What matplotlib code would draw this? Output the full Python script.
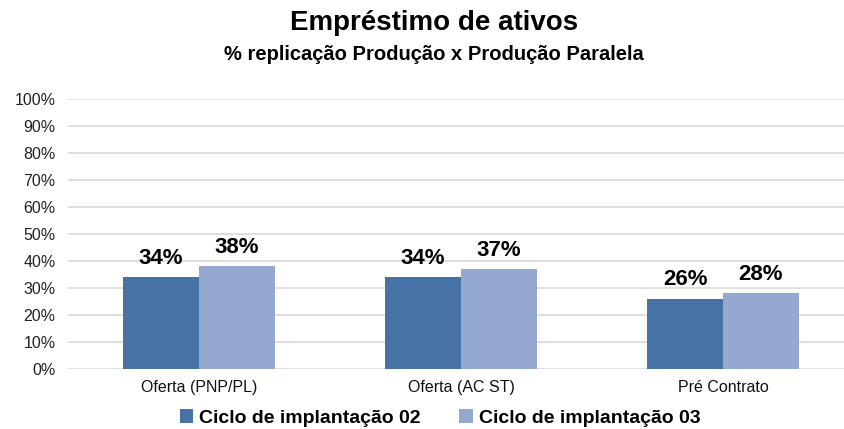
import matplotlib
matplotlib.use("Agg")
import matplotlib.pyplot as plt
import numpy as np

categories = ["Oferta (PNP/PL)", "Oferta (AC ST)", "Pré Contrato"]
series_names = ["Ciclo de implantação 02", "Ciclo de implantação 03"]
ciclo02 = [34, 34, 26]
ciclo03 = [38, 37, 28]
yticks = list(range(0, 101, 10))

plt.rcParams['font.family'] = ['Liberation Sans', 'DejaVu Sans']

fig = plt.figure(figsize=(8.44, 4.29), dpi=100)
W, H = 844, 429
left, right = 68, 854
top, bottom = 99, 369
ax = fig.add_axes([left / W, 1 - bottom / H, (right - left) / W, (bottom - top) / H])

x = np.arange(len(categories))
bw = 0.29
c1, c2 = "#4672A6", "#95A9D0"
b1 = ax.bar(x - bw / 2, ciclo02, bw, color=c1, label=series_names[0], zorder=3)
b2 = ax.bar(x + bw / 2, ciclo03, bw, color=c2, label=series_names[1], zorder=3)
for bars, vals in ((b1, ciclo02), (b2, ciclo03)):
    for r, v in zip(bars, vals):
        ax.annotate(f"{v}%", (r.get_x() + r.get_width() / 2, v), xytext=(0, 6),
                    textcoords="offset points", ha="center", va="bottom",
                    fontsize=16, fontweight="bold", color="black")

ax.set_xlim(-0.5, 2.5)
ax.set_ylim(0, 100)
ax.set_yticks(yticks)
ax.set_yticklabels([f"{t}%" for t in yticks], fontsize=11.5, color="#222222")
ax.set_xticks(x)
ax.set_xticklabels(categories, fontsize=11.5, color="#111111")
ax.tick_params(axis="y", length=0, pad=9)
ax.tick_params(axis="x", length=0, pad=8)
ax.grid(axis="y", color="#D9D9D9", linewidth=1.2, zorder=0)
for s in ax.spines.values():
    s.set_visible(False)

fig.text(434 / W, 1 - 23 / H, "Empréstimo de ativos", ha="center", va="center",
         fontsize=20, fontweight="bold")
fig.text(434 / W, 1 - 54 / H, "% replicação Produção x Produção Paralela", ha="center",
         va="center", fontsize=14.5, fontweight="bold")

leg = fig.legend(handles=[b1, b2], loc="center", bbox_to_anchor=(440 / W, 1 - 418 / H),
                 ncol=2, frameon=False, prop={"size": 14, "weight": "bold"},
                 handlelength=0.7, handleheight=0.7, handletextpad=0.3, columnspacing=2.0)

fig.savefig("out.png", dpi=100)
